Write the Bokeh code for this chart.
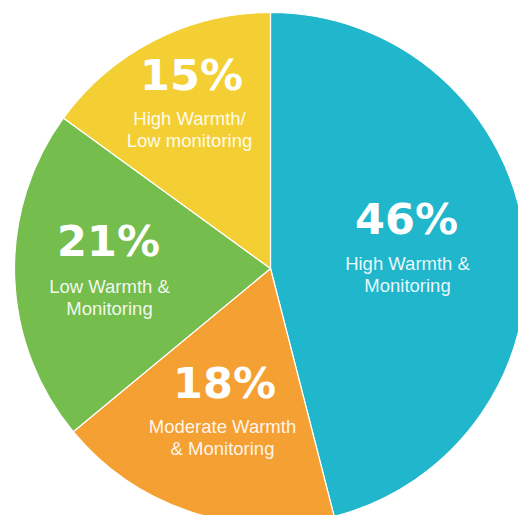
import math
from bokeh.plotting import figure
from bokeh.models import Range1d, ColumnDataSource
from bokeh.core.properties import value
from bokeh.embed import file_html
from bokeh.resources import INLINE

# ---- data ----
categories = ["High Warmth & Monitoring", "Moderate Warmth & Monitoring",
              "Low Warmth & Monitoring", "High Warmth/ Low monitoring"]
shares = [46, 18, 21, 15]
pct_labels = ["46%", "18%", "21%", "15%"]
label_line1 = ["High Warmth &", "Moderate Warmth", "Low Warmth &", "High Warmth/"]
label_line2 = ["Monitoring", "& Monitoring", "Monitoring", "Low monitoring"]
colors = ["#20b6cc", "#f5a033", "#75bd4d", "#f3cf34"]

# ---- layout (pixel offsets from pie centre, screen y downwards) ----
W, H = 518, 515
cx, cy = 270, 247          # pie centre in data units (1 unit = 1 px)
R = 256
pct_off = [(136, -50), (-46, 114), (-162, -28), (-79, -194)]
lab_off = [(137, -5), (-48, 158), (-161, 18), (-81, -150)]
line_gap = 22

total = float(sum(shares))
starts, ends = [], []
acc = 0.0
for s in shares:
    starts.append(math.pi / 2 - 2 * math.pi * acc / total)
    acc += s
    ends.append(math.pi / 2 - 2 * math.pi * acc / total)

src = ColumnDataSource(dict(x=[cx] * 4, y=[cy] * 4, start=starts, end=ends,
                            color=colors, cat=categories))

p = figure(width=W, height=H, output_backend="svg", toolbar_location=None,
           x_range=Range1d(0, W), y_range=Range1d(0, H), min_border=0)
p.axis.visible = False
p.grid.visible = False
p.outline_line_color = None
p.background_fill_color = "white"
p.border_fill_color = "white"

p.wedge(x="x", y="y", radius=R, start_angle="start", end_angle="end",
        direction="clock", fill_color="color", line_color="white",
        line_width=1.2, source=src)

px = [cx + o[0] for o in pct_off]
py = [cy - o[1] for o in pct_off]
p.text(x=px, y=py, text=pct_labels, text_align="center", text_baseline="middle",
       text_font=value("DejaVu Sans"), text_font_style="bold",
       text_font_size="43px", text_color="white")

lx = [cx + o[0] for o in lab_off]
ly1 = [cy - o[1] for o in lab_off]
ly2 = [y - line_gap for y in ly1]
for ys, txt in ((ly1, label_line1), (ly2, label_line2)):
    p.text(x=lx, y=ys, text=txt, text_align="center", text_baseline="middle",
           text_font=value("Liberation Sans"), text_font_size="18.5px",
           text_color="white", text_alpha=0.92)

open("out.html", "w").write(file_html(p, INLINE))
